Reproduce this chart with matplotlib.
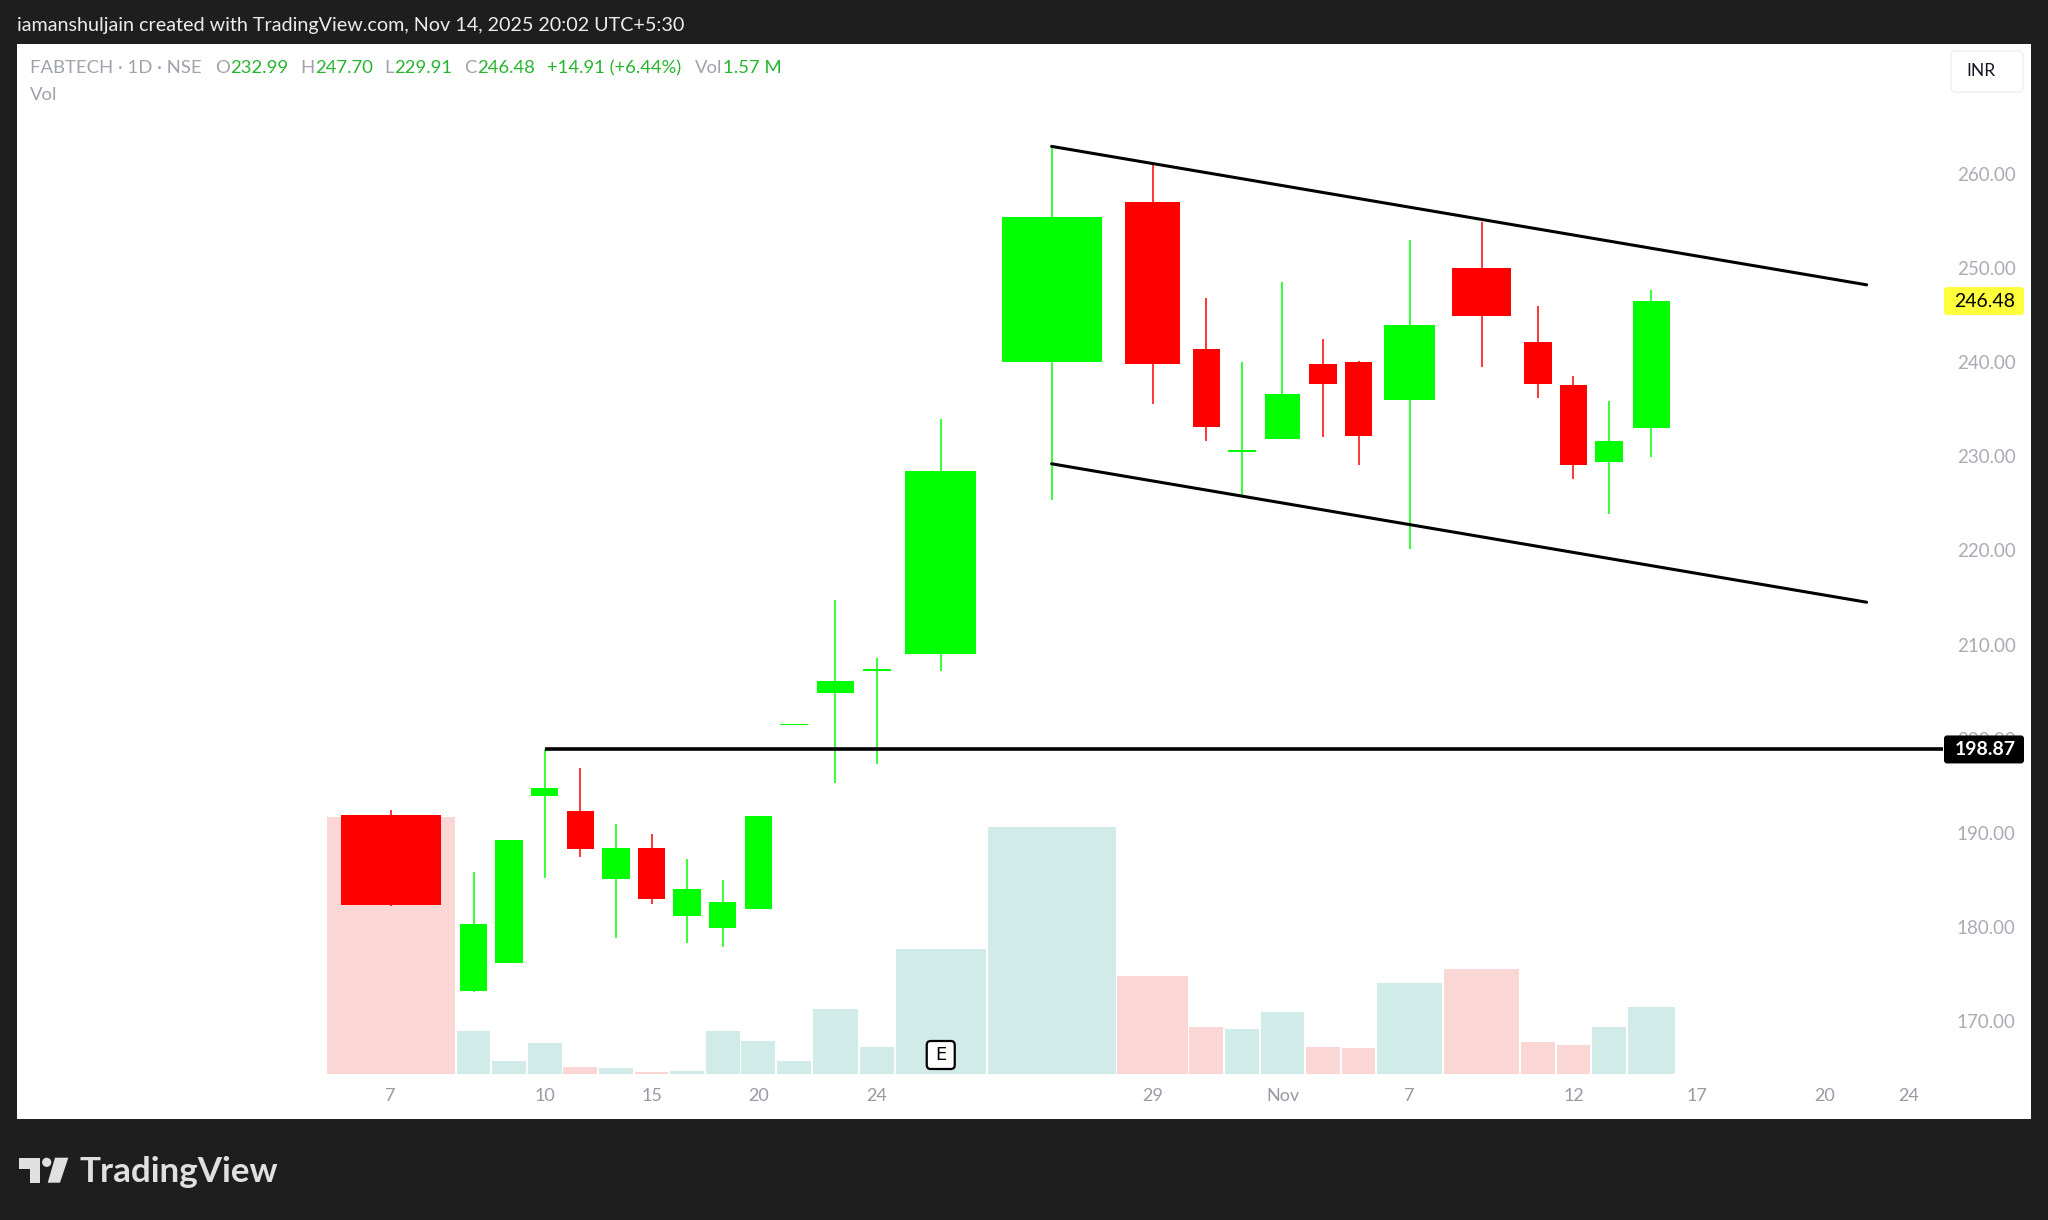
import numpy as np
import matplotlib

matplotlib.use('Agg')
from matplotlib import pyplot as plt
from matplotlib.patches import Rectangle, Polygon, Circle, FancyBboxPatch
from matplotlib.transforms import IdentityTransform

# FABTECH 1D NSE, volume candles (bar width follows volume)
dates = ['Oct 7', 'Oct 8', 'Oct 9', 'Oct 10', 'Oct 13', 'Oct 14', 'Oct 15', 'Oct 16', 'Oct 17',
         'Oct 20', 'Oct 21', 'Oct 23', 'Oct 24', 'Oct 27', 'Oct 28', 'Oct 29', 'Oct 30', 'Oct 31',
         'Nov 3', 'Nov 4', 'Nov 6', 'Nov 7', 'Nov 10', 'Nov 11', 'Nov 12', 'Nov 13', 'Nov 14']
opens = [191.9, 173.2, 176.2, 193.9, 192.3, 185.1, 188.4, 181.2, 179.9,
         181.9, 201.5, 204.9, 207.2, 209.0, 240.0, 257.0, 241.4, 230.5,
         231.8, 239.8, 240.0, 236.0, 250.0, 242.1, 237.6, 229.4, 232.99]
highs = [192.4, 185.9, 189.3, 198.87, 196.9, 191.0, 189.9, 187.2, 185.0,
         191.8, 201.5, 214.7, 208.6, 234.0, 262.9, 260.9, 246.8, 240.0,
         248.5, 242.5, 240.1, 253.0, 254.9, 246.0, 238.5, 235.9, 247.70]
lows = [182.3, 173.1, 176.2, 185.2, 187.5, 178.9, 182.5, 178.3, 177.9,
        181.9, 201.5, 195.3, 197.3, 207.2, 225.4, 235.6, 231.6, 225.8,
        231.8, 232.0, 229.1, 220.2, 239.5, 236.2, 227.6, 223.9, 229.91]
closes = [182.4, 180.3, 189.3, 194.8, 188.3, 188.4, 183.0, 184.1, 182.7,
          191.8, 201.5, 206.1, 207.4, 228.4, 255.4, 239.8, 233.1, 230.7,
          236.6, 237.7, 232.1, 243.9, 244.9, 237.7, 229.1, 231.57, 246.48]
volumes = [6.02, 1.01, 0.30, 0.73, 0.17, 0.13, 0.05, 0.07, 1.01,
           0.76, 0.30, 1.52, 0.62, 2.93, 5.78, 2.30, 1.10, 1.05,
           1.45, 0.63, 0.61, 2.13, 2.46, 0.75, 0.67, 1.09, 1.57]  # millions
future_dates = ['Nov 17', 'Nov 18', 'Nov 19', 'Nov 20', 'Nov 21', 'Nov 24']

tick_dates = ['Oct 7', 'Oct 10', 'Oct 15', 'Oct 20', 'Oct 24', 'Oct 29', 'Nov 3',
              'Nov 7', 'Nov 12', 'Nov 17', 'Nov 20', 'Nov 24']
tick_labels = ['7', '10', '15', '20', '24', '29', 'Nov', '7', '12', '17', '20', '24']
price_ticks = [170, 180, 190, 200, 210, 220, 230, 240, 250, 260]

# drawings
support_level = 198.87
support_from = 'Oct 10'
channel_from, channel_to = 'Oct 28', 'Nov 21'
channel_upper = [262.9, 248.2]
channel_lower = [229.2, 214.5]
earnings_date = 'Oct 27'

W, H = 2048, 1220
PANE_L, PANE_R, PANE_T, PANE_B = 17, 1943, 44, 1074
GRAY = '#9fa2aa'
GREEN_TXT = '#27b42f'
FONT = 'Lato'


def fx(x):
    return x / W


def fy(y):
    return 1 - y / H


fig = plt.figure(figsize=(W / 100, H / 100), dpi=100, facecolor='#1e1e1e')
fig.add_artist(Rectangle((17, H - 1119), 2014, 1075, transform=IdentityTransform(),
                         facecolor='white', edgecolor='none', zorder=-1))

rect = [fx(PANE_L), fy(PANE_B), (PANE_R - PANE_L) / W, (PANE_B - PANE_T) / H]
vax = fig.add_axes(rect, zorder=1)
ax = fig.add_axes(rect, zorder=2)
for a in (ax, vax):
    a.set_facecolor('none')
    for s in a.spines.values():
        s.set_visible(False)

# bar slots: width grows with volume, clamped
slots = np.clip(np.array(volumes) / 1.137, 1.0, 3.65)
lefts = np.concatenate([[0.0], np.cumsum(slots)[:-1]])
centers = lefts + slots / 2
end = lefts[-1] + slots[-1]
future_centers = end + (np.arange(len(future_dates)) + 0.5) * 1.19
pos = dict(zip(dates + future_dates, list(centers) + list(future_centers)))

xlim = (-8.674, 45.43)
ax.set_xlim(*xlim)
vax.set_xlim(*xlim)
ax.set_ylim(164.41, 273.77)
vax.set_ylim(0, max(volumes) * 4.0)

o = np.array(opens)
c = np.array(closes)
up = c >= o

# volume
vcol = np.where(up, '#d1ebe8', '#fad6d5')
vax.bar(lefts + 0.025, volumes, width=slots - 0.05, align='edge', color=vcol, linewidth=0)
vax.axis('off')

# candles
ccol = np.where(up, '#00ff00', '#ff0000')
lo = np.minimum(o, c)
hi = np.maximum(o, c)
bh = np.maximum(hi - lo, 0.15)
mid = (hi + lo) / 2
ax.vlines(centers, lows, highs, colors=ccol, lw=1.1, zorder=2)
ax.bar(centers, bh, width=slots * 0.77, bottom=mid - bh / 2, color=ccol, linewidth=0, zorder=3)

# channel + support
ax.plot([pos[channel_from], pos[channel_to]], channel_upper, color='black', lw=2.2,
        solid_capstyle='round', zorder=4)
ax.plot([pos[channel_from], pos[channel_to]], channel_lower, color='black', lw=2.2,
        solid_capstyle='round', zorder=4)
ax.plot([pos[support_from], xlim[1]], [support_level, support_level], color='black', lw=2.6,
        solid_capstyle='butt', zorder=4, clip_on=False)

# axes ticks
ax.set_xticks([pos[d] for d in tick_dates])
ax.set_xticklabels(tick_labels, family=FONT, fontsize=13, color='#979aa3')
ax.tick_params(axis='x', length=0, pad=10)
ax.yaxis.tick_right()
ax.set_yticks(price_ticks)
ax.set_yticklabels(['{:.2f}'.format(p) for p in price_ticks], family=FONT, fontsize=13.5,
                   color='#a9acb4')
ax.tick_params(axis='y', length=0, pad=10)

# price labels on the scale
def price_box(price, fc, tc, weight):
    yd = ax.transData.transform((0, price))[1]
    fig.add_artist(FancyBboxPatch((1944, yd - 14), 80, 28, boxstyle='round,pad=0,rounding_size=3',
                                  transform=IdentityTransform(), facecolor=fc, edgecolor='none',
                                  zorder=4))
    fig.text(1985 / W, yd / H, '{:.2f}'.format(price), color=tc, fontsize=14, family=FONT,
             weight=weight, ha='center', va='center', zorder=5)


price_box(closes[-1], '#ffff3b', 'black', 'normal')
price_box(support_level, 'black', 'white', 'bold')

# earnings marker
ex = ax.transData.transform((pos[earnings_date], 0))[0]
fig.add_artist(FancyBboxPatch((ex - 14, H - 1069), 28, 28, boxstyle='round,pad=0,rounding_size=4',
                              transform=IdentityTransform(), facecolor='white', edgecolor='black',
                              lw=1.6, zorder=4))
fig.text(ex / W, fy(1055), 'E', color='black', fontsize=13, family='DejaVu Sans',
         ha='center', va='center', zorder=5)

# currency box
fig.add_artist(FancyBboxPatch((1951, H - 92), 72, 41, boxstyle='round,pad=0,rounding_size=5',
                              transform=IdentityTransform(), facecolor='white', edgecolor='#eeeeee',
                              lw=1, zorder=4))
fig.text(fx(1981), fy(71), 'INR', color='#131722', fontsize=12.5, family=FONT,
         ha='center', va='center', zorder=5)

# header legend
renderer = fig.canvas.get_renderer()
chg = closes[-1] - closes[-2]
pct = chg / closes[-2] * 100
parts = [('FABTECH · 1D · NSE', GRAY, 14),
         ('O', GRAY, 0), ('{:.2f}'.format(opens[-1]), GREEN_TXT, 12),
         ('H', GRAY, 0), ('{:.2f}'.format(highs[-1]), GREEN_TXT, 12),
         ('L', GRAY, 0), ('{:.2f}'.format(lows[-1]), GREEN_TXT, 12),
         ('C', GRAY, 0), ('{:.2f}'.format(closes[-1]), GREEN_TXT, 12),
         ('{:+.2f} ({:+.2f}%)'.format(chg, pct), GREEN_TXT, 14),
         ('Vol', GRAY, 1), ('{:.2f} M'.format(volumes[-1]), GREEN_TXT, 0)]
x = 30
for s, col, gap in parts:
    t = fig.text(fx(x), fy(68), s, color=col, fontsize=13.3, family=FONT, ha='left', va='center')
    x += t.get_window_extent(renderer).width + gap
fig.text(fx(30), fy(95), 'Vol', color=GRAY, fontsize=13.3, family=FONT, ha='left', va='center')

# top caption
fig.text(fx(17), fy(25), 'iamanshuljain created with TradingView.com, Nov 14, 2025 20:02 UTC+5:30',
         color='#ececec', fontsize=14.2, family=FONT, ha='left', va='center')

# TradingView logo
logo = '#e0e0e0'
fig.add_artist(Polygon([(19.3, H - 1157.7), (40, H - 1157.7), (40, H - 1182.7), (30, H - 1182.7),
                        (30, H - 1169.3), (19.3, H - 1169.3)], closed=True,
                       transform=IdentityTransform(), facecolor=logo, edgecolor='none'))
fig.add_artist(Circle((46.7, H - 1162.3), 4.6, transform=IdentityTransform(), facecolor=logo,
                      edgecolor='none'))
fig.add_artist(Polygon([(55, H - 1157.7), (68.3, H - 1157.7), (60, H - 1182.7), (47.7, H - 1182.7)],
                       closed=True, transform=IdentityTransform(), facecolor=logo, edgecolor='none'))
fig.text(fx(80), fy(1182), 'TradingView', color=logo, fontsize=25.2, family=FONT, weight='bold',
         ha='left', va='baseline')

plt.savefig('out.png', dpi=100, facecolor=fig.get_facecolor())
plt.close(fig)
